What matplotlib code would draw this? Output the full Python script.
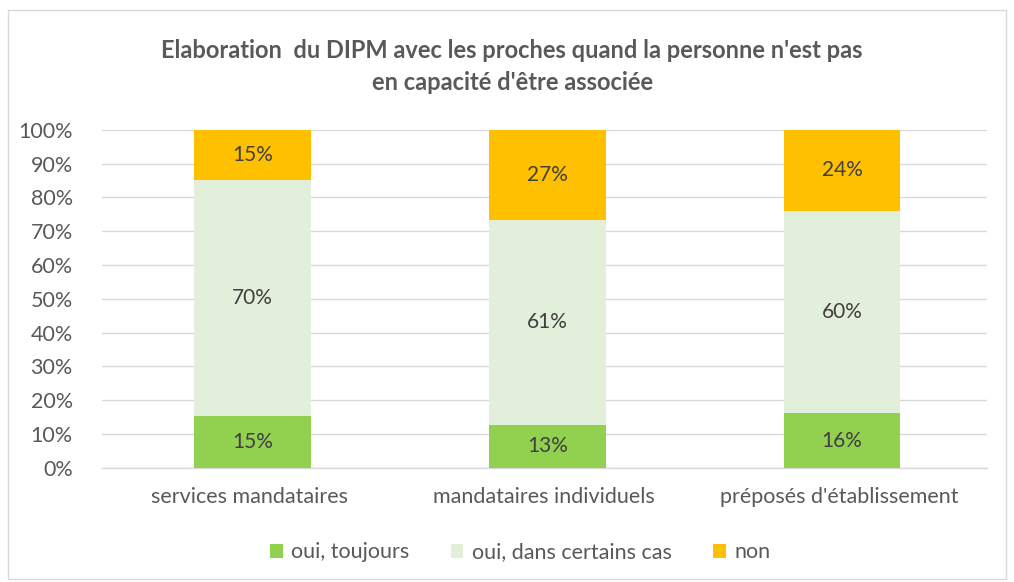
import matplotlib
matplotlib.use("Agg")
import matplotlib.pyplot as plt
from matplotlib.patches import Rectangle
import numpy as np

categories = ["services mandataires", "mandataires individuels", "préposés d'établissement"]
series_names = ["oui, toujours", "oui, dans certains cas", "non"]
oui_toujours = [15.4, 12.8, 16.1]
oui_certains = [69.7, 60.6, 59.9]
non = [14.9, 26.6, 24.0]
title = "Elaboration  du DIPM avec les proches quand la personne n'est pas\nen capacité d'être associée"

colors = ["#92D050", "#E2EFDA", "#FFC000"]
text_color = "#595959"
label_color = "#404040"

plt.rcParams['font.family'] = ['Lato', 'DejaVu Sans']

fig = plt.figure(figsize=(10.14, 5.82), dpi=100)
fig.patches.append(Rectangle((0.008, 0.005), 0.984, 0.978, transform=fig.transFigure,
                             fill=False, edgecolor="#D9D9D9", linewidth=1.0))
ax = fig.add_axes([0.1006, 0.196, 0.8724, 0.581])

x = np.arange(len(categories))
bottom = np.zeros(len(categories))
for name, vals, c in zip(series_names, [oui_toujours, oui_certains, non], colors):
    vals = np.array(vals)
    ax.bar(x + 0.01, vals, bottom=bottom, width=0.395, color=c, label=name, zorder=3)
    for xi, b, v in zip(x, bottom, vals):
        ax.text(xi + 0.01, b + v / 2, f"{round(v):.0f}%", ha="center", va="center",
                fontsize=15, color=label_color, zorder=4)
    bottom += vals

ax.set_xlim(-0.5, 2.5)
ax.set_ylim(0, 100)
ax.set_yticks(np.arange(0, 101, 10))
ax.set_yticklabels([f"{t}%" for t in range(0, 101, 10)])
ax.set_xticks(x)
ax.set_xticklabels(categories)
ax.tick_params(axis="both", length=0, labelsize=15.5, colors=text_color)
ax.tick_params(axis="y", pad=21)
ax.tick_params(axis="x", pad=14)
ax.grid(axis="y", color="#D9D9D9", linewidth=1.0, zorder=0)
for s in ["top", "right", "left"]:
    ax.spines[s].set_visible(False)
ax.spines["bottom"].set_color("#D9D9D9")
ax.spines["bottom"].set_linewidth(1.0)

fig.text(0.505, 0.886, title, ha="center", va="center", fontsize=17, fontweight="bold",
         color=text_color, linespacing=1.45)

handles, labels = ax.get_legend_handles_labels()
fig.legend(handles, labels, loc="center", bbox_to_anchor=(0.513, 0.051), ncol=3,
           frameon=False, fontsize=15.5, labelcolor=text_color, handlelength=0.6,
           handleheight=0.6, handletextpad=0.4, columnspacing=1.9)

fig.savefig("out.png", dpi=100)
